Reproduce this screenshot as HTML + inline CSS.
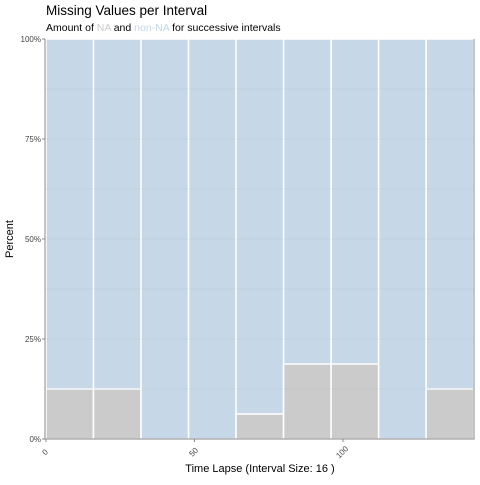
<!DOCTYPE html>
<html><head><meta charset="utf-8"><style>
body{margin:0;background:#fff}
svg text{font-family:"Liberation Sans",sans-serif}
</style></head><body>
<svg width="480" height="480">
<text x="46" y="15" font-size="13.5" fill="#000">Missing Values per Interval</text>
<text x="46" y="31" font-size="10.5" fill="#000">Amount of <tspan fill="#cbcbcb">NA</tspan> and <tspan fill="#c6d7e8">non-NA</tspan> for successive intervals</text>
<g id="plot"></g>
<text x="260" y="472" font-size="11" text-anchor="middle">Time Lapse (Interval Size: 16 )</text>
<text transform="translate(13,239) rotate(-90)" font-size="11" text-anchor="middle">Percent</text>
</svg>
<script>
const intervalStarts=[0,16,32,48,64,80,96,112,128];
const naPercent=[12.5,12.5,0,0,6.25,18.75,18.75,0,12.5];
const intervalSize=16;
const xTicks=[0,50,100];
const yTicks=[0,25,50,75,100];
const yTickLabels=["0%","25%","50%","75%","100%"];
const NS="http://www.w3.org/2000/svg";
const g=document.getElementById('plot');
const L=45,R=474,T=39,B=439;
const xs=v=>46+v*2.97;
const ys=v=>B-(B-T)*v/100;
function mk(t,a){const e=document.createElementNS(NS,t);for(const k in a)e.setAttribute(k,a[k]);g.appendChild(e);return e;}
intervalStarts.forEach((s,i)=>{
  const x0=xs(s),x1=xs(s+intervalSize);
  const b=mk('rect',{x:x0,y:T,width:x1-x0,height:B-T,fill:'#c6d7e8',stroke:'#fff','stroke-width':1.5});
  
  
  if(naPercent[i]>0){
    const n=mk('rect',{x:x0,y:ys(naPercent[i]),width:x1-x0,height:B-ys(naPercent[i]),fill:'#cbcbcb',stroke:'#fff','stroke-width':1.5});
    
    
  }
});
[12.5,25,37.5,50,62.5,75,87.5].forEach(v=>{
  const l=mk('line',{x1:L,x2:R,y1:ys(v),y2:ys(v),stroke:'#9fb0c4','stroke-opacity':0.3,'stroke-width':0.6});
  
  
});
const ax=mk('path',{d:`M${L},${T}V${B}H${R}V${T}`,fill:'none',stroke:'#888','stroke-width':1});


yTicks.forEach((v,i)=>{
  mk('line',{x1:L-3,x2:L,y1:ys(v),y2:ys(v),stroke:'#888'});
  const t=mk('text',{x:L-4,y:ys(v)+3,'font-size':8,'text-anchor':'end',fill:'#444'});
  t.textContent=yTickLabels[i];
  
  
});
xTicks.forEach(v=>{
  const x=xs(v);
  mk('line',{x1:x,x2:x,y1:B,y2:B+3,stroke:'#888'});
  const t=mk('text',{transform:`translate(${x+1},${B+15}) rotate(-45)`,'font-size':8,'text-anchor':'middle',fill:'#444'});
  t.textContent=String(v);
  
  
});
</script>
</body></html>
